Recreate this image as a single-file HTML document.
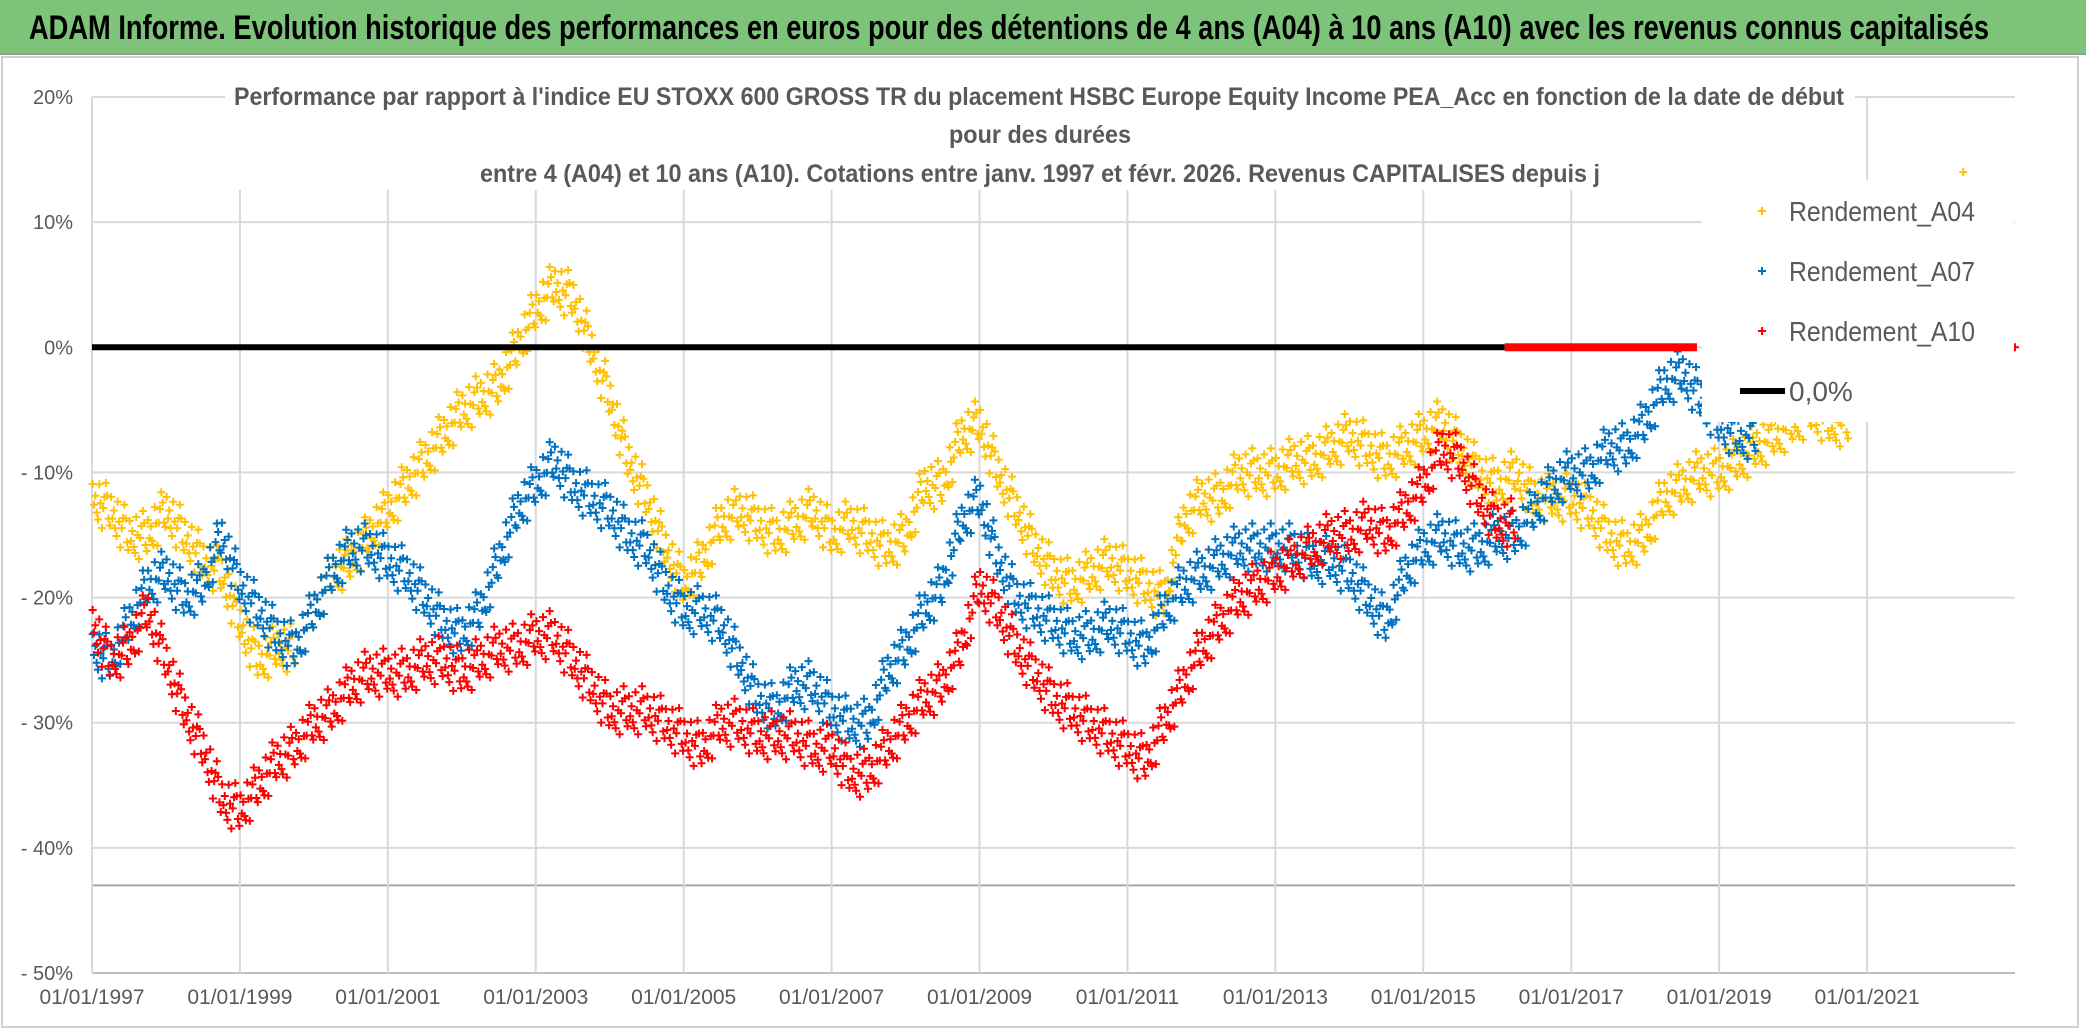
<!DOCTYPE html>
<html><head><meta charset="utf-8">
<style>
html,body{margin:0;padding:0;background:#fff;}
#wrap{position:relative;width:2086px;height:1031px;overflow:hidden;background:#fff;font-family:"Liberation Sans",sans-serif;}
svg text{font-family:"Liberation Sans",sans-serif;}
</style></head>
<body>
<div id="wrap">
<svg id="chart" width="2086" height="1031" style="position:absolute;left:0;top:0">
<rect x="0" y="0" width="2086" height="53" fill="#7dc47a"/>
<line x1="0" x2="2086" y1="54" y2="54" stroke="#9a9a9a" stroke-width="2"/>
<text x="29" y="39" font-size="34" font-weight="bold" fill="#000" textLength="1960" lengthAdjust="spacingAndGlyphs">ADAM Informe. Evolution historique des performances en euros pour des détentions de 4 ans (A04) à 10 ans (A10) avec les revenus connus capitalisés</text>
<rect x="2" y="57" width="2076" height="970" fill="none" stroke="#d0d0d0" stroke-width="2"/>
<g id="grid"></g><g id="marks"></g><g id="axes"></g>
<g fill="#595959" font-size="25" font-weight="bold">
<rect x="225" y="80" width="1630" height="110" fill="#fff"/>
<text x="234" y="105" textLength="1610" lengthAdjust="spacingAndGlyphs">Performance par rapport à l'indice EU STOXX 600 GROSS TR  du placement HSBC Europe Equity Income PEA_Acc en fonction de la date de début</text>
<text x="949" y="143" textLength="182" lengthAdjust="spacingAndGlyphs">pour des durées</text>
<text x="480" y="182" textLength="1120" lengthAdjust="spacingAndGlyphs">entre 4 (A04) et 10 ans (A10). Cotations entre janv. 1997 et févr. 2026. Revenus CAPITALISES depuis j</text>
</g>
<g id="legend"></g>
</svg>
</div>
<script>
const yTicks=[20,10,0,-10,-20,-30,-40,-50];
const yTickLabels=["20%","10%","0%","- 10%","- 20%","- 30%","- 40%","- 50%"];
const xTickYears=[1997,1999,2001,2003,2005,2007,2009,2011,2013,2015,2017,2019,2021];
const xTickLabels=["01/01/1997","01/01/1999","01/01/2001","01/01/2003","01/01/2005","01/01/2007","01/01/2009","01/01/2011","01/01/2013","01/01/2015","01/01/2017","01/01/2019","01/01/2021"];
const a04Start=1997;
const a04=[-12,-13,-15,-15,-13,-15,-17,-18,-22,-25,-24,-24,-21,-18,-17,-15,-13,-11,-9,-7,-5,-4,-3,0,3,5,4,0,-4,-9,-12,-16,-19,-17,-14,-13,-14,-15,-14,-13,-15,-14,-15,-16,-15,-11,-11,-7,-6,-10,-13,-16,-18,-19,-18,-17,-18,-19,-20,-14,-12,-12,-10,-10,-10,-9,-9,-8,-7,-8,-9,-8,-7,-6,-8,-10,-11,-10,-12,-12,-12,-13,-15,-16,-15,-12,-11,-10,-10,-9,-8,-7,-6,-5,-6];
const a07Start=1997;
const a07=[-24,-25,-22,-19,-18,-20,-19,-15,-19,-21,-23,-24,-21,-18,-16,-16,-17,-18,-20,-22,-23,-21,-17,-13,-11,-9,-11,-12,-13,-15,-16,-19,-21,-21,-22,-25,-28,-29,-27,-27,-29,-30,-30,-26,-24,-21,-19,-14,-12,-17,-20,-21,-22,-23,-23,-22,-23,-24,-21,-19,-18,-17,-16,-16,-16,-16,-17,-17,-18,-20,-22,-18,-16,-15,-16,-16,-15,-15,-13,-11,-10,-10,-8,-8,-6,-3,-2,-4,-6,-7];
const a10Start=1997;
const a10=[-22,-25,-24,-21,-25,-29,-32,-36,-37,-35,-33,-32,-30,-29,-27,-26,-26,-26,-25,-25,-26,-25,-24,-24,-23,-23,-25,-27,-29,-29,-29,-30,-31,-32,-30,-30,-31,-31,-31,-32,-32,-34,-34,-32,-30,-28,-27,-24,-19,-21,-24,-26,-28,-29,-30,-31,-32,-33,-30,-27,-24,-22,-20,-19,-18,-17,-16,-15,-15,-14,-15,-13,-11,-8,-9,-12,-14];
const a10ZeroStart=2016.1, a10ZeroEnd=2018.7;
const extraA04=[[2022.3,14]];
const extraA10=[[2023.0,0]];
const zeroLineEnd=2016.1;

const X0=92,X1=2015,YR0=1997,YR1=2023;
const Y0=973,Y1=97;
function xs(y){return X0+(y-YR0)/(YR1-YR0)*(X1-X0);}
function ys(v){return Y0+(v-(-50))/(70)*(Y1-Y0);}
const NS="http://www.w3.org/2000/svg";
function mk(tag,attrs,parent){const e=document.createElementNS(NS,tag);for(const k in attrs)e.setAttribute(k,attrs[k]);parent.appendChild(e);return e;}
const grid=document.getElementById('grid'),axes=document.getElementById('axes'),marks=document.getElementById('marks');
yTicks.forEach((t,i)=>{
  const l=mk('line',{x1:X0,x2:X1,y1:ys(t),y2:ys(t),stroke:i===yTicks.length-1?'#bfbfbf':'#d9d9d9','stroke-width':2},grid);
  
  
  const tx=mk('text',{x:73,y:ys(t)+7,'text-anchor':'end','font-size':20,fill:'#595959'},axes);
  tx.textContent=yTickLabels[i];
  
  
});
const l43=mk('line',{x1:X0,x2:X1,y1:ys(-43),y2:ys(-43),stroke:'#a6a6a6','stroke-width':2},grid);


xTickYears.forEach((y,i)=>{
  const l=mk('line',{x1:xs(y),x2:xs(y),y1:Y1,y2:Y0,stroke:'#d9d9d9','stroke-width':2},grid);
  
  
  const tx=mk('text',{x:xs(y),y:1004,'text-anchor':'middle','font-size':21,fill:'#595959'},axes);
  tx.textContent=xTickLabels[i];
  
  
});
const offs=[[-8,-14],[-3,6],[2,-4],[7,12],[-6,18],[4,-18],[9,0],[0,24],[-10,3],[5,-9],[-2,-24],[8,-12],[-5,10],[3,16]];
function plus(x,y,c,g,s){mk('path',{d:`M${x-s} ${y}H${x+s}M${x} ${y-s}V${y+s}`,stroke:c,'stroke-width':2,fill:'none'},g);}
function series(arr,start,color,name){
  const g=mk('g',{},marks);
  
  
  arr.forEach((v,i)=>{
    const yr=start+i*0.25;
    const nv=i+1<arr.length?arr[i+1]:v;
    offs.forEach((o,k)=>{
      const f=(k+0.5)/offs.length;
      const vv=v+(nv-v)*f;
      plus(xs(yr+f*0.25),ys(vv)+o[1],color,g,4);
    });
  });
  return g;
}
const gA04=series(a04,a04Start,'#FFC000','series-a04');
extraA04.forEach(p=>plus(xs(p[0]),ys(p[1]),'#FFC000',gA04,4));
series(a07,a07Start,'#0070C0','series-a07');
const gA10=series(a10,a10Start,'#FF0000','series-a10');
extraA10.forEach(p=>plus(xs(p[0]),ys(p[1]),'#FF0000',gA10,4));
const zl=mk('line',{x1:X0,x2:xs(zeroLineEnd),y1:ys(0),y2:ys(0),stroke:'#000','stroke-width':6},marks);


const rz=mk('rect',{x:xs(a10ZeroStart),y:ys(0)-4,width:xs(a10ZeroEnd)-xs(a10ZeroStart),height:8,fill:'#FF0000'},marks);


const lg=document.getElementById('legend');
mk('rect',{x:1702,y:180,width:312,height:242,fill:'#fff'},lg);
const le=[['Rendement_A04','#FFC000'],['Rendement_A07','#0070C0'],['Rendement_A10','#FF0000']];
le.forEach((e,i)=>{
  const cy=211+i*60;
  const g=mk('g',{},lg);
  
  
  plus(1762,cy,e[1],g,4);
  const t=mk('text',{x:1789,y:cy+10,'font-size':28,fill:'#595959',textLength:186,lengthAdjust:'spacingAndGlyphs'},g);
  t.textContent=e[0];
});
const g0=mk('g',{},lg);


mk('line',{x1:1740,x2:1785,y1:391,y2:391,stroke:'#000','stroke-width':6},g0);
const t0=mk('text',{x:1789,y:401,'font-size':28,fill:'#595959'},g0);
t0.textContent='0,0%';
</script>
</body></html>
